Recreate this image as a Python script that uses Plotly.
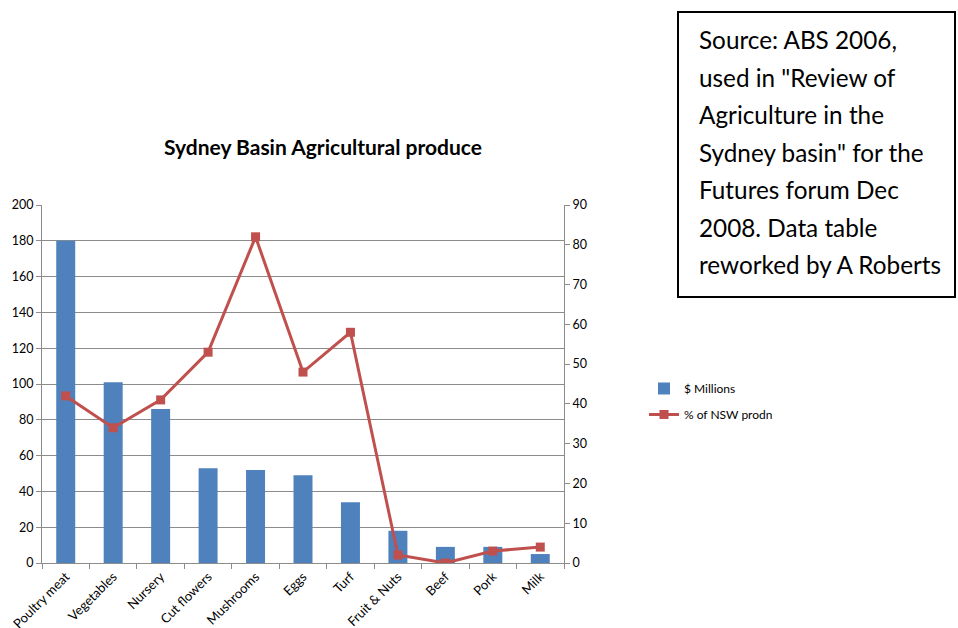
import plotly.graph_objects as go

categories = ["Poultry meat", "Vegetables", "Nursery", "Cut flowers", "Mushrooms",
              "Eggs", "Turf", "Fruit & Nuts", "Beef", "Pork", "Milk"]
millions = [180, 101, 86, 53, 52, 49, 34, 18, 9, 9, 5]
pct_nsw = [42, 34, 41, 53, 82, 48, 58, 2, 0, 3, 4]
note_lines = ["Source: ABS 2006,", "used in \"Review of", "Agriculture in the",
              "Sydney basin\" for the", "Futures forum Dec", "2008. Data table",
              "reworked by A Roberts"]

W, H = 958, 628
L, R, T, B = 42, 564, 205, 563
FONT = "Lato"
GRID = "#8c8c8c"


def px(x):
    return (x - L) / (R - L)


def py(y):
    return (B - y) / (B - T)


fig = go.Figure()
fig.add_trace(go.Bar(x=categories, y=millions, name="$ Millions", legendgroup="a",
                     marker=dict(color="#4F81BD", line=dict(width=0)), width=0.4))
fig.add_trace(go.Scatter(x=categories, y=pct_nsw, name="% of NSW prodn", yaxis="y2",
                         legendgroup="b", mode="lines+markers",
                         line=dict(color="#C0504D", width=3),
                         marker=dict(symbol="square", size=9, color="#C0504D")))

annotations = [dict(text="<b>Sydney Basin Agricultural produce</b>", xref="paper", yref="paper",
                    x=px(323), y=py(146), showarrow=False, xanchor="center", yanchor="middle",
                    font=dict(family=FONT, size=21, color="#000"))]
y0 = 40
for i, line in enumerate(note_lines):
    annotations.append(dict(text=line, xref="paper", yref="paper", x=px(697), y=py(y0 + i * 37.4),
                            showarrow=False, xanchor="left", yanchor="middle",
                            font=dict(family=FONT, size=24.3, color="#000")))

fig.update_layout(
    width=W, height=H,
    margin=dict(l=L, r=W - R, t=T, b=H - B, pad=0, autoexpand=False),
    paper_bgcolor="white", plot_bgcolor="white",
    font=dict(family=FONT, size=12, color="#000"),
    showlegend=True,
    legend=dict(x=px(644), y=py(374), xanchor="left", yanchor="top",
                font=dict(family=FONT, size=12), tracegroupgap=7, itemwidth=30),
    xaxis=dict(range=[-0.5, len(categories) - 0.5], showline=True, linecolor=GRID, linewidth=1,
               ticks="outside", tickson="boundaries",
               ticklen=5, tickcolor=GRID, tickangle=-45, showgrid=False, automargin=False,
               tickfont=dict(family=FONT, size=13)),
    yaxis=dict(range=[0, 200], dtick=20, showline=True, linecolor=GRID, linewidth=1,
               ticks="outside", ticklen=5, tickcolor=GRID, showgrid=True, gridcolor=GRID,
               gridwidth=1, zeroline=False, automargin=False, tickfont=dict(family=FONT, size=12.5)),
    yaxis2=dict(range=[0, 90], dtick=10, overlaying="y", side="right", showline=True,
                linecolor=GRID, linewidth=1, ticks="outside", ticklen=5, tickcolor=GRID,
                showgrid=False, zeroline=False, automargin=False,
                tickfont=dict(family=FONT, size=12.5)),
    annotations=annotations,
    shapes=[dict(type="rect", xref="paper", yref="paper", x0=px(678), x1=px(955),
                 y0=py(297), y1=py(12), line=dict(color="#000", width=2))],
)

fig.write_html("out.html")
